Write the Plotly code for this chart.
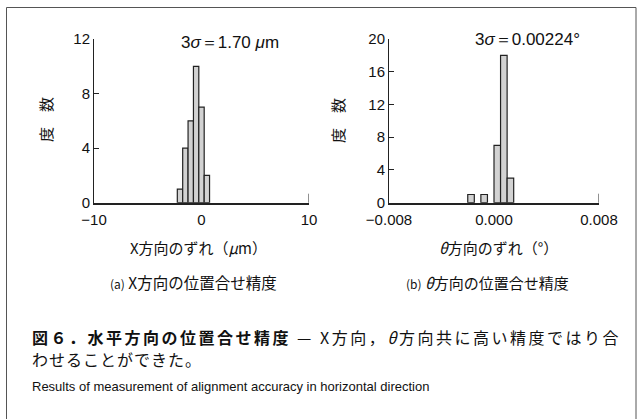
import plotly.graph_objects as go

W, H = 638, 419

# ---- data ----
a_bin_left = [-2.25, -1.75, -1.25, -0.75, -0.25, 0.25]
a_counts = [1, 4, 6, 10, 7, 2]
a_bin_width = 0.5
a_xticks = [-10, 0, 10]
a_yticks = [0, 4, 8, 12]

b_bin_left = [-0.002, -0.001, 0.0, 0.0005, 0.001]
b_counts = [1, 1, 7, 18, 3]
b_bin_width = 0.0005
b_xticks = [-0.008, 0.0, 0.008]
b_xticklabels = ["−0.008", "0.000", "0.008"]
b_yticks = [0, 4, 8, 12, 16, 20]

JP = "Noto Sans CJK JP"
SANS = "Liberation Sans, Arial, sans-serif"

def px(x):
    return x / W

def py(y):
    return 1 - y / H

fig = go.Figure()
bar_style = dict(marker=dict(color="#d2d2d2", line=dict(color="#222222", width=1.2)),
                 offset=0, showlegend=False, hoverinfo="skip")
fig.add_trace(go.Bar(x=a_bin_left, y=a_counts, width=[a_bin_width] * len(a_counts),
                     xaxis="x", yaxis="y", **bar_style))
fig.add_trace(go.Bar(x=b_bin_left, y=b_counts, width=[b_bin_width] * len(b_counts),
                     xaxis="x2", yaxis="y2", **bar_style))

ydom = [py(202.7), py(39)]
common_x = dict(showline=True, linecolor="#222", linewidth=2, ticks="", showgrid=False,
                zeroline=False, automargin=False, ticklabelstandoff=2,
                tickfont=dict(family=SANS, size=15, color="#111"))
common_y = dict(showline=True, linecolor="#222", linewidth=1, ticks="inside", ticklen=5,
                tickcolor="#222", tickwidth=1, showgrid=False, zeroline=False, automargin=False,
                tickfont=dict(family=SANS, size=15, color="#111"), domain=ydom)

fig.update_layout(
    template="none",
    width=W, height=H, autosize=False, margin=dict(l=0, r=0, t=0, b=0, pad=0),
    paper_bgcolor="white", plot_bgcolor="white", bargap=0, showlegend=False,
    xaxis=dict(domain=[px(94), px(309)], range=[-10, 10], tickvals=a_xticks,
               ticktext=["−10", "0", "10"], anchor="y", **common_x),
    yaxis=dict(range=[0, 12], tickvals=a_yticks, anchor="x", **common_y),
    xaxis2=dict(domain=[px(389), px(599)], range=[-0.008, 0.008], tickvals=b_xticks,
                ticktext=b_xticklabels, anchor="y2", **common_x),
    yaxis2=dict(range=[0, 20], tickvals=b_yticks, anchor="x2", **common_y),
)

frame = dict(color="#555", width=1)
shapes = [
    dict(type="line", xref="x", yref="y domain", x0=10, x1=10, y0=0, y1=0.055,
         line=dict(color="#222", width=1)),
    dict(type="line", xref="x2", yref="y2 domain", x0=0.008, x1=0.008, y0=0, y1=0.055,
         line=dict(color="#222", width=1)),
    dict(type="line", xref="paper", yref="paper", x0=px(6.5), x1=px(6.5), y0=0, y1=py(7.5), line=frame),
    dict(type="line", xref="paper", yref="paper", x0=px(6.5), x1=px(636), y0=py(7.5), y1=py(7.5), line=frame),
    dict(type="line", xref="paper", yref="paper", x0=px(636), x1=px(636), y0=0, y1=py(7.5), line=frame),
]
fig.update_layout(shapes=shapes)

def ann(text, x, y, size, family=JP, xanchor="center", angle=0, color="#111"):
    return dict(text=text, x=px(x), y=py(y), xref="paper", yref="paper", showarrow=False,
                xanchor=xanchor, yanchor="middle", textangle=angle,
                font=dict(family=family, size=size, color=color))

annotations = [
    ann("3<i>σ</i>＝1.70 <i>μ</i>m", 230, 42.5, 17, family=SANS),
    ann("3<i>σ</i>＝0.00224°", 527, 39.5, 17, family=SANS),
    ann("度　数", 46, 120, 15, angle=-90),
    ann("度　数", 337, 121, 15, angle=-90),
    ann("X方向のずれ（<i>μ</i>m）", 198.5, 248, 15),
    ann("<i>θ</i>方向のずれ（°）", 498.5, 248, 15),
    ann("<span style='font-size:12px'>(a)</span> X方向の位置合せ精度", 193, 282, 15.5),
    ann("<span style='font-size:12px'>(b)</span> <i>θ</i>方向の位置合せ精度", 487, 282, 15),
    ann("<span style='letter-spacing:2.5px'><b>図６．水平方向の位置合せ精度</b> — X方向，"
        "<i>θ</i>方向共に高い精度ではり合</span>",
        30, 337, 16, xanchor="left"),
    ann("<span style='letter-spacing:1px'>わせることができた。</span>", 30, 359, 16, xanchor="left"),
    ann("Results of measurement of alignment accuracy in horizontal direction",
        30, 386, 13, family=SANS, xanchor="left"),
]
fig.update_layout(annotations=annotations)

fig.write_html("out.html", config={"displayModeBar": False, "staticPlot": True},
               post_script="document.body.style.margin='0';document.body.style.overflow='hidden';")
